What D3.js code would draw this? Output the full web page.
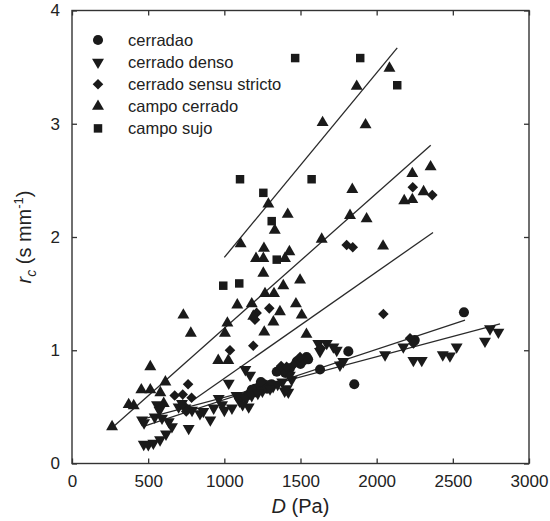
<!DOCTYPE html>
<html>
<head>
<meta charset="utf-8">
<script src="https://cdn.jsdelivr.net/npm/d3@7"></script>
<style>
  html, body { margin: 0; padding: 0; background: #fff; }
  svg { display: block; }
  text { font-family: "Liberation Sans", Arial, sans-serif; fill: #222; }
</style>
</head>
<body>
<svg id="chart" width="550" height="521"></svg>
<script>
// ---- data ----
const seriesNames = ["cerradao", "cerrado denso", "cerrado sensu stricto", "campo cerrado", "campo sujo"];
const xTicks = [0, 500, 1000, 1500, 2000, 2500, 3000];
const yTicks = [0, 1, 2, 3, 4];

const cerradao = [
  [2573, 1.335], [1814, 0.99], [1853, 0.70], [1628, 0.83], [1519, 0.91], [1475, 0.90],
  [1540, 0.94], [1344, 0.81], [1366, 0.83], [1200, 0.66], [1230, 0.68], [1260, 0.70],
  [1170, 0.62], [1290, 0.69], [1150, 0.60], [1100, 0.58], [2250, 1.09], [1210, 0.63],
  [1180, 0.65], [1240, 0.72], [1280, 0.66], [1310, 0.70], [1400, 0.80], [1430, 0.84],
  [1500, 0.88], [1550, 0.92]
];
const cerradoDenso = [
  [471, 0.17], [501, 0.166], [534, 0.18], [578, 0.21], [617, 0.26], [460, 0.385],
  [558, 0.52], [574, 0.47], [543, 0.41], [591, 0.40], [635, 0.37], [656, 0.325],
  [766, 0.31], [908, 0.385], [1029, 0.71], [963, 0.575], [985, 0.52], [930, 0.49],
  [840, 0.44], [862, 0.46], [788, 0.47], [744, 0.49], [700, 0.50], [722, 0.53],
  [1138, 0.83], [1169, 0.78], [2175, 1.03], [2055, 0.96], [2241, 0.91], [2296, 0.91],
  [2434, 0.96], [2481, 0.95], [2525, 1.03], [2711, 1.08], [2744, 1.19], [2799, 1.16],
  [1617, 1.06], [1672, 1.06], [1716, 1.03], [1738, 1.00], [1628, 0.99], [1409, 0.66],
  [1442, 0.74], [1759, 0.87], [1781, 0.90], [1420, 0.63], [1160, 0.50], [1100, 0.55],
  [1140, 0.57], [1180, 0.60], [1250, 0.64], [1320, 0.68], [1380, 0.72], [1430, 0.78],
  [1080, 0.60], [1120, 0.52], [1050, 0.49], [1000, 0.47], [473, 0.36], [1396, 0.64],
  [1220, 0.62], [1300, 0.66], [1350, 0.70]
];
const sensuStricto = [
  [2237, 2.44], [2365, 2.37], [1803, 1.93], [1843, 1.91], [1295, 1.37], [2044, 1.32],
  [1037, 1.00], [1190, 1.04], [1212, 1.33], [1201, 1.27], [1632, 1.02], [2219, 1.105],
  [2241, 1.06], [762, 0.70], [727, 0.61], [674, 0.60], [785, 0.58], [727, 0.52],
  [750, 0.46], [1396, 0.82], [1373, 0.86], [1409, 0.855], [1453, 0.87], [1497, 0.94]
];
const campoCerrado = [
  [2084, 3.49], [1869, 3.33], [1645, 3.01], [1927, 2.99], [2354, 2.62], [2234, 2.56],
  [1840, 2.42], [2234, 2.33], [2181, 2.32], [2308, 2.40], [1289, 2.29], [1416, 2.20],
  [1825, 2.19], [1934, 2.16], [1331, 2.06], [1639, 1.98], [2042, 1.92], [1107, 1.94],
  [1260, 1.90], [1208, 1.81], [1256, 1.81], [1427, 1.87], [1398, 1.81], [1256, 1.68],
  [1497, 1.62], [1387, 1.57], [1267, 1.50], [1326, 1.50], [1085, 1.40], [1180, 1.41],
  [1470, 1.41], [1365, 1.34], [1508, 1.31], [731, 1.31], [1020, 1.24], [1322, 1.25],
  [1262, 1.16], [1539, 1.14], [780, 1.15], [1004, 1.15], [960, 0.91], [1026, 0.91],
  [514, 0.855], [613, 0.72], [455, 0.65], [514, 0.65], [580, 0.625], [602, 0.53],
  [372, 0.52], [405, 0.51], [263, 0.325], [1190, 1.30]
];
const campoSujo = [
  [1465, 3.58], [1892, 3.58], [2135, 3.34], [1103, 2.51], [1256, 2.39], [1573, 2.51],
  [1311, 2.14], [1344, 1.80], [993, 1.57], [1098, 1.59]
];

// regression lines, one per series (same order as seriesNames)
const fitIntercept = [0.12, 0.225, -0.188, 0.001, 0.19];
const fitSlope = [0.000444, 0.000359, 0.00094, 0.001193, 0.00163];
const fitFrom = [470, 470, 785, 260, 1000];
const fitTo = [2580, 2810, 2370, 2355, 2135];

// ---- drawing ----
const svg = d3.select("#chart");
const x = d3.scaleLinear().domain([0, 3000]).range([72, 529]);
const y = d3.scaleLinear().domain([0, 4]).range([463.5, 10.5]);
const ink = "#1a1a1a";

const allSeries = [cerradao, cerradoDenso, sensuStricto, campoCerrado, campoSujo];

function symbolPath(i) {
  if (i === 0) return d3.symbol().type(d3.symbolCircle).size(80)();
  if (i === 1 || i === 3) return d3.symbol().type(d3.symbolTriangle).size(62)();
  if (i === 2) return d3.symbol().type(d3.symbolSquare).size(56)();
  return d3.symbol().type(d3.symbolSquare).size(72)();
}
function symbolRotate(i) {
  if (i === 1) return " rotate(180)";
  if (i === 2) return " rotate(45)";
  return "";
}

// frame
svg.append("rect")
  .attr("x", x(0)).attr("y", y(4))
  .attr("width", x(3000) - x(0)).attr("height", y(0) - y(4))
  .attr("fill", "none").attr("stroke", "#333").attr("stroke-width", 1.4);

// axes
const gx = svg.append("g").attr("transform", `translate(0,${y(0)})`)
  .call(d3.axisBottom(x).tickValues(xTicks).tickSize(-5).tickSizeOuter(0).tickPadding(11).tickFormat(d3.format("d")));
const gy = svg.append("g").attr("transform", `translate(${x(0)},0)`)
  .call(d3.axisLeft(y).tickValues(yTicks).tickSize(-5).tickSizeOuter(0).tickPadding(12).tickFormat(d3.format("d")));
const gt = svg.append("g").attr("transform", `translate(0,${y(4)})`)
  .call(d3.axisTop(x).tickValues(xTicks).tickSize(-5).tickSizeOuter(0).tickFormat(""));
const gr = svg.append("g").attr("transform", `translate(${x(3000)},0)`)
  .call(d3.axisRight(y).tickValues(yTicks).tickSize(-5).tickSizeOuter(0).tickFormat(""));
[gx, gy, gt, gr].forEach(g => {
  g.select(".domain").remove();
  g.selectAll(".tick line").attr("stroke", "#333").attr("stroke-width", 1.3);
  g.selectAll(".tick text").attr("font-size", 17).attr("fill", "#222")
    .attr("font-family", "'Liberation Sans', Arial, sans-serif");
});

// regression lines
const fits = seriesNames.map((n, i) => ({ i, a: fitIntercept[i], b: fitSlope[i], from: fitFrom[i], to: fitTo[i] }));
svg.append("g").selectAll("line").data(fits).join("line")
  .attr("x1", d => x(d.from)).attr("y1", d => y(d.a + d.b * d.from))
  .attr("x2", d => x(d.to)).attr("y2", d => y(d.a + d.b * d.to))
  .attr("stroke", "#2a2a2a").attr("stroke-width", 1.3);

// points
allSeries.forEach((pts, i) => {
  svg.append("g").selectAll("path").data(pts).join("path")
    .attr("d", symbolPath(i))
    .attr("transform", d => `translate(${x(d[0])},${y(d[1])})${symbolRotate(i)}`)
    .attr("fill", ink);
});

// legend
const legend = svg.append("g");
seriesNames.forEach((name, i) => {
  const ly = 40 + i * 22.1;
  legend.append("path").attr("d", symbolPath(i))
    .attr("transform", `translate(98,${ly})${symbolRotate(i)}`).attr("fill", ink);
  legend.append("text").attr("x", 128).attr("y", ly).attr("dy", "0.35em")
    .attr("font-size", 16.5).text(name);
});

// axis titles
const xt = svg.append("text").attr("x", (x(0) + x(3000)) / 2).attr("y", 513)
  .attr("text-anchor", "middle").attr("font-size", 20);
xt.append("tspan").attr("font-style", "italic").text("D");
xt.append("tspan").text(" (Pa)");

const yt = svg.append("text")
  .attr("transform", `translate(31,${(y(0) + y(4)) / 2}) rotate(-90)`)
  .attr("text-anchor", "middle").attr("font-size", 20);
yt.append("tspan").attr("font-style", "italic").text("r");
yt.append("tspan").attr("font-style", "italic").attr("font-size", 14).attr("dy", 5).text("c");
yt.append("tspan").attr("dy", -5).text(" (s mm");
yt.append("tspan").attr("font-size", 13).attr("dy", -8).text("-1");
yt.append("tspan").attr("dy", 8).text(")");
</script>
</body>
</html>
